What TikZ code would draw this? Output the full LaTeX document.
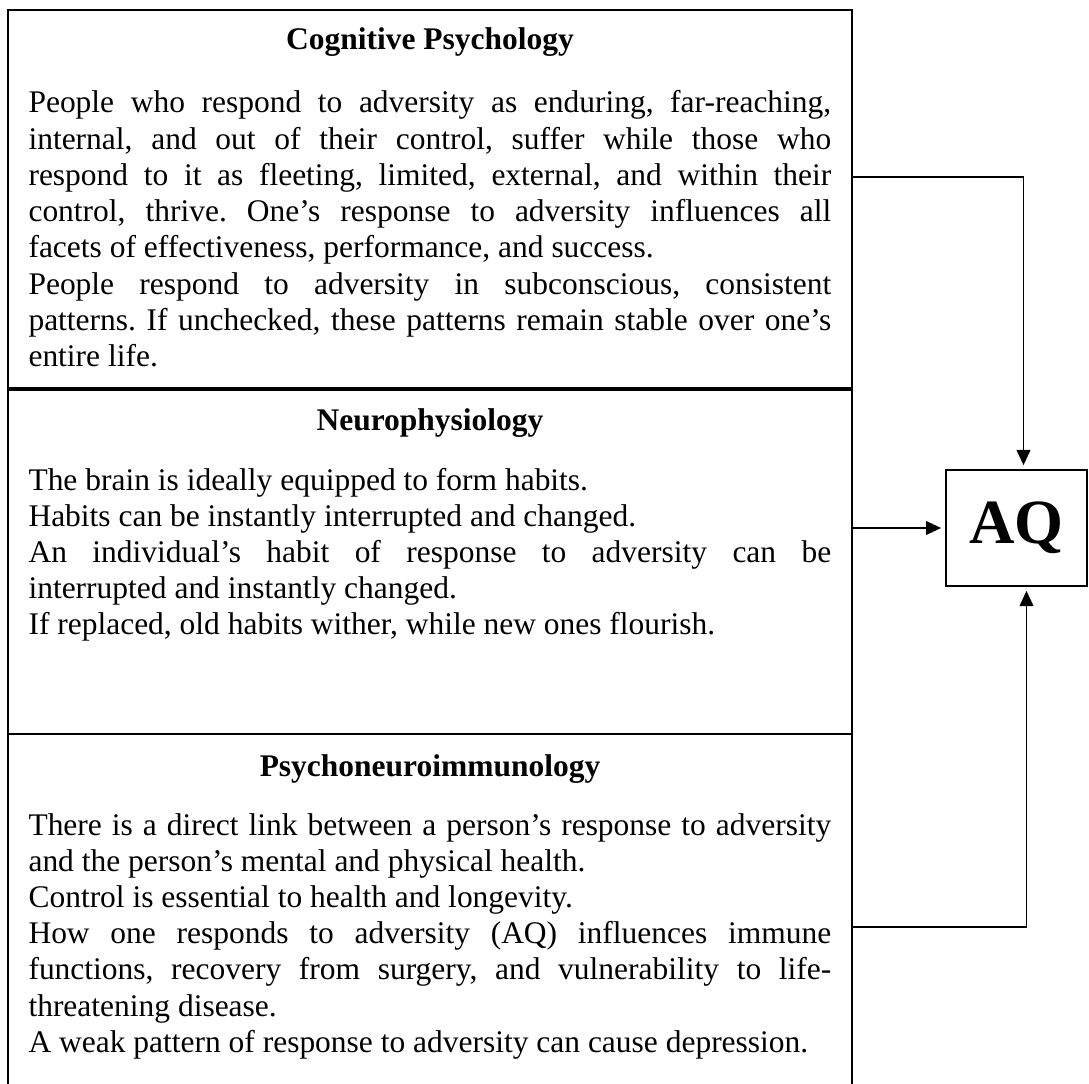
\documentclass[tikz,border=0pt]{standalone}
\usepackage{fontspec}
\setmainfont{Liberation Serif}
\usetikzlibrary{arrows.meta,positioning,fit,calc}

\begin{document}
\begin{tikzpicture}[x=0.3812pt, y=-0.3812pt,
  frame/.style={draw, line width=0.7pt, inner sep=0pt},
  ttl/.style={anchor=base, inner sep=0pt, font=\fontsize{12}{13.8}\selectfont\bfseries},
  body/.style={anchor=base west, text width=306pt, align=justify, inner sep=0pt,
    font=\fontsize{12}{13.8}\selectfont,
    execute at begin node={\frenchspacing\tolerance=10000\relax\hyphenpenalty=10000\relax}},
  aq/.style={draw, line width=0.7pt, inner sep=0pt, minimum width=53.7pt,
    minimum height=44.2pt, font=\fontsize{24}{28}\selectfont\bfseries},
  conn/.style={line width=0.75pt, -{Triangle[length=5.8pt,width=5.2pt]}, shorten >=1.5pt}]
\useasboundingbox (0,0) rectangle (1089,1084);

% three stacked sections
\node[frame, fit={(8,10) (852,388)}] (cog) {};
\node[frame, fit={(8,390) (852,734)}] (neuro) {};
\node[frame, fit={(8,734) (852,1095)}] (psy) {};

\node[ttl] (cogttl) at (430,50) {Cognitive Psychology};
\node[body] (cogtxt) at (28,113) {People who respond to adversity as enduring, far-reaching,\linebreak
internal, and out of their control, suffer while those who\linebreak
respond to it as fleeting, limited, external, and within their\linebreak
control, thrive. One's response to adversity influences all\linebreak
facets of effectiveness, performance, and success.\par
People respond to adversity in subconscious, consistent\linebreak
patterns. If unchecked, these patterns remain stable over one's\linebreak
entire life.};

\node[ttl] (neuttl) at (430,431) {Neurophysiology};
\node[body] (neutxt) at (28,490) {The brain is ideally equipped to form habits.\par
Habits can be instantly interrupted and changed.\par
An individual's habit of response to adversity can be\linebreak
interrupted and instantly changed.\par
If replaced, old habits wither, while new ones flourish.};

\node[ttl] (psyttl) at (430,776) {Psychoneuroimmunology};
\node[body] (psytxt) at (28,835) {There is a direct link between a person's response to adversity\linebreak
and the person's mental and physical health.\par
Control is essential to health and longevity.\par
How one responds to adversity (AQ) influences immune\linebreak
functions, recovery from surgery, and vulnerability to life-\linebreak
threatening disease.\par
A weak pattern of response to adversity can cause depression.};

\node[aq] (AQ) at (1016.5,528) {AQ};

% connectors into AQ
\coordinate (topy) at (0,177);
\coordinate (boty) at (0,927);
\draw[conn] (cog.east |- topy) -| ($(AQ.north)+(7,0)$);
\draw[conn] (neuro.east |- AQ.west) -- (AQ.west);
\draw[conn] (psy.east |- boty) -| ($(AQ.south)+(10,0)$);
\end{tikzpicture}
\end{document}
